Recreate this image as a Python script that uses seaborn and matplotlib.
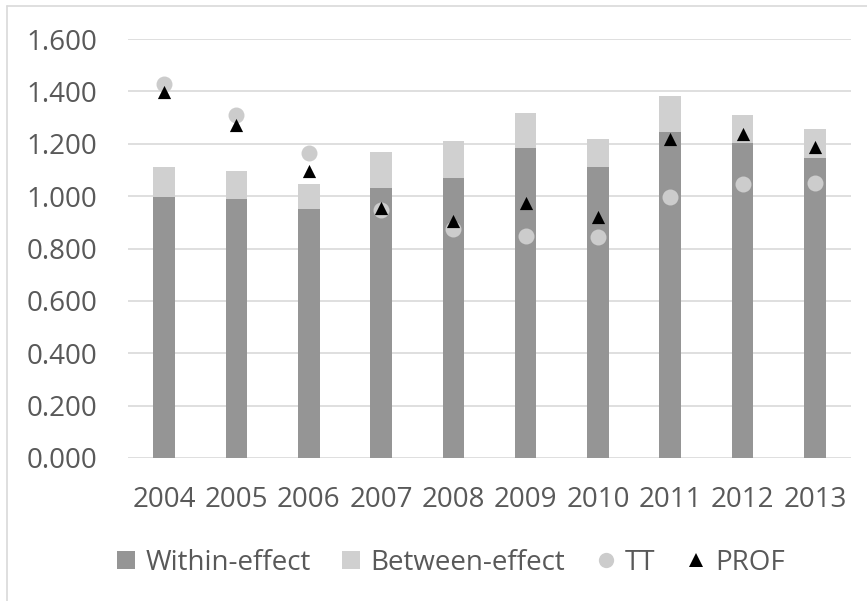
import matplotlib
matplotlib.use("Agg")
import matplotlib.pyplot as plt
from matplotlib.lines import Line2D
import seaborn as sns
import pandas as pd

years = ["2004", "2005", "2006", "2007", "2008", "2009", "2010", "2011", "2012", "2013"]
within_effect = [0.995, 0.990, 0.950, 1.031, 1.069, 1.183, 1.111, 1.244, 1.203, 1.145]
between_effect = [0.116, 0.105, 0.096, 0.136, 0.141, 0.135, 0.107, 0.138, 0.105, 0.112]
tt = [1.427, 1.309, 1.164, 0.947, 0.874, 0.847, 0.845, 0.997, 1.046, 1.052]
prof = [1.398, 1.271, 1.095, 0.955, 0.905, 0.974, 0.919, 1.218, 1.237, 1.186]
y_ticks = [0.0, 0.2, 0.4, 0.6, 0.8, 1.0, 1.2, 1.4, 1.6]
y_tick_labels = ["0.000", "0.200", "0.400", "0.600", "0.800", "1.000", "1.200", "1.400", "1.600"]

df = pd.DataFrame({
    "year": years,
    "within": within_effect,
    "total": [w + b for w, b in zip(within_effect, between_effect)],
    "TT": tt,
    "PROF": prof,
})

sns.set_theme(style="white")
plt.rcParams["font.family"] = ["Open Sans", "DejaVu Sans"]

TEXT = "#595959"
C_WITHIN = "#959595"
C_BETWEEN = "#d0d0d0"
C_TT = "#cccccc"
GRID = "#d9d9d9"
FS = 20

fig = plt.figure(figsize=(8.67, 6.01), dpi=100)
ax = fig.add_axes([128 / 867, 1 - 458 / 601, (851 - 128) / 867, (458 - 39) / 601])

for y in y_ticks:
    ax.axhline(y, color=GRID, lw=1.2, zorder=0)

sns.barplot(data=df, x="year", y="total", color=C_BETWEEN, width=0.3,
            saturation=1, ax=ax, zorder=2, linewidth=0)
sns.barplot(data=df, x="year", y="within", color=C_WITHIN, width=0.3,
            saturation=1, ax=ax, zorder=3, linewidth=0)
sns.stripplot(data=df, x="year", y="TT", color=C_TT, jitter=False, size=11.5,
              marker="o", linewidth=0, ax=ax, zorder=4)
sns.stripplot(data=df, x="year", y="PROF", color="black", jitter=False, size=9.5,
              marker="^", linewidth=0, ax=ax, zorder=5)

ax.set_xlim(-0.5, 9.5)
ax.set_ylim(0, 1.6)
ax.set_yticks(y_ticks)
ax.set_yticklabels(y_tick_labels)
ax.set_xlabel("")
ax.set_ylabel("")
for s in ax.spines.values():
    s.set_visible(False)
ax.tick_params(axis="y", length=0, pad=22, labelsize=FS, labelcolor=TEXT)
ax.tick_params(axis="x", length=0, pad=20, labelsize=FS, labelcolor=TEXT)
ax.grid(False)

handles = [
    Line2D([], [], marker="s", linestyle="", markersize=12.5, color=C_WITHIN, markeredgewidth=0),
    Line2D([], [], marker="s", linestyle="", markersize=12.5, color=C_BETWEEN, markeredgewidth=0),
    Line2D([], [], marker="o", linestyle="", markersize=11, color=C_TT, markeredgewidth=0),
    Line2D([], [], marker="^", linestyle="", markersize=9.5, color="black", markeredgewidth=0),
]
labels = ["Within-effect", "Between-effect", "TT", "PROF"]
leg = fig.legend(handles, labels, loc="center", bbox_to_anchor=(450 / 867, 1 - 563 / 601),
                 ncol=4, frameon=False, fontsize=FS, labelcolor=TEXT,
                 handlelength=0.8, handletextpad=0.3, columnspacing=1.05,
                 borderpad=0, borderaxespad=0)

# outer chart-area frame (left and top edges visible)
fig.add_artist(Line2D([6.5 / 867, 6.5 / 867], [0, 1 - 5.5 / 601], transform=fig.transFigure,
                      color=GRID, lw=1.2))
fig.add_artist(Line2D([6.5 / 867, 1], [1 - 5.5 / 601, 1 - 5.5 / 601], transform=fig.transFigure,
                      color=GRID, lw=1.2))

fig.savefig("out.png", dpi=100)
